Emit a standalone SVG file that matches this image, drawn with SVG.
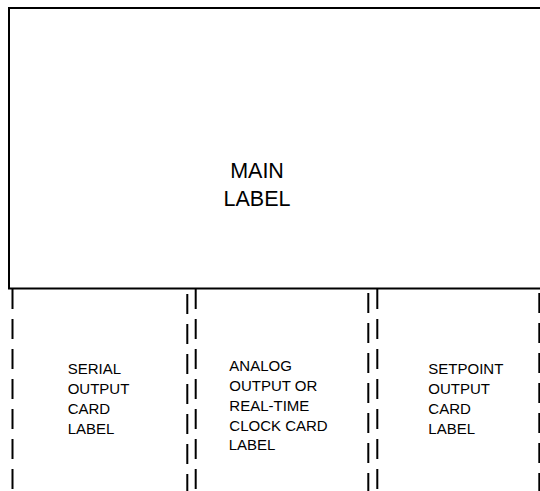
<svg xmlns="http://www.w3.org/2000/svg" width="540" height="491" viewBox="0 0 540 491">
<style>
.box{fill:#fff;stroke:#000;stroke-width:2}
.dash{stroke:#000;stroke-width:2;stroke-dasharray:20 10;fill:none}
.t{font-family:"Liberation Sans",Arial,sans-serif;fill:#000}
.big{font-size:21.5px}
.small{font-size:15px}
</style>
<rect width="540" height="491" fill="#fff"/>
<g id="main">
<path class="box" d="M545,8 H9 V288.5 H545"/>
<text class="t big" text-anchor="middle" x="257" y="178.3">MAIN</text>
<text class="t big" text-anchor="middle" x="257" y="206">LABEL</text>
</g>
<g id="connectors">
<line class="dash" x1="12.5" y1="289" x2="12.5" y2="491"/>
<line class="dash" x1="187.3" y1="294" x2="187.3" y2="491"/>
<line class="dash" x1="195.7" y1="289" x2="195.7" y2="491"/>
<line class="dash" x1="368.3" y1="293" x2="368.3" y2="491"/>
<line class="dash" x1="377.3" y1="289" x2="377.3" y2="491"/>
<line class="dash" x1="539.3" y1="293" x2="539.3" y2="491"/>
</g>
<g id="serial">
<text class="t small" x="67.7" y="374.3">SERIAL</text>
<text class="t small" x="67.7" y="394">OUTPUT</text>
<text class="t small" x="67.7" y="414">CARD</text>
<text class="t small" x="67.7" y="433.5">LABEL</text>
</g>
<g id="analog">
<text class="t small" x="229.3" y="370.7">ANALOG</text>
<text class="t small" x="229.3" y="390.7">OUTPUT OR</text>
<text class="t small" x="229.3" y="410.7">REAL-TIME</text>
<text class="t small" x="229.3" y="430.7">CLOCK CARD</text>
<text class="t small" x="228.7" y="450.3">LABEL</text>
</g>
<g id="setpoint">
<text class="t small" x="428.3" y="374">SETPOINT</text>
<text class="t small" x="428.3" y="394">OUTPUT</text>
<text class="t small" x="428.3" y="414">CARD</text>
<text class="t small" x="428.3" y="434">LABEL</text>
</g>
</svg>
